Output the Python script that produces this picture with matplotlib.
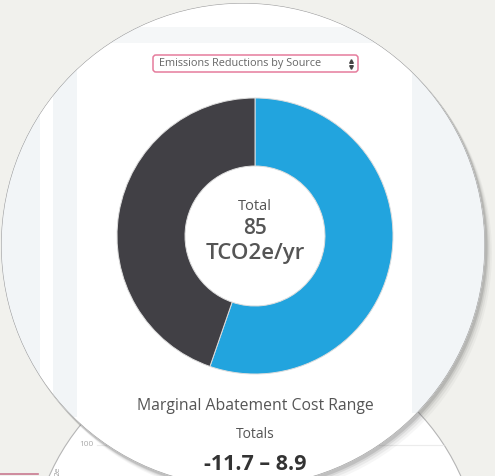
import matplotlib
matplotlib.use("Agg")
import matplotlib.pyplot as plt
from matplotlib.patches import Circle, Rectangle, FancyBboxPatch

# ---- data ----
sources = ["Source 1", "Source 2"]
reductions = [47, 38]          # TCO2e/yr
source_colors = ["#22a4de", "#414045"]
total_label = "85"
unit_label = "TCO2e/yr"
mac_range = "-11.7 \u2013 8.9"
dropdown_text = "Emissions Reductions by Source"

W, H = 495, 476
plt.rcParams['font.family'] = ['Open Sans', 'DejaVu Sans']

fig = plt.figure(figsize=(W / 100, H / 100), dpi=100)
fig.patch.set_facecolor("#f1f1ed")
ax = fig.add_axes([0, 0, 1, 1])
ax.set_xlim(0, W)
ax.set_ylim(0, H)
ax.set_aspect("equal")
ax.axis("off")

def Y(y):
    return H - y

# pink line bottom-left
ax.plot([0, 38], [Y(474), Y(474)], color="#c97a90", lw=1.2, zorder=1)

# ---- second (lower) circle ----
c2 = Circle((255, Y(567)), 225, facecolor="white", edgecolor="#b5b5b5", lw=0.8, zorder=2)
ax.add_patch(c2)
gl, = ax.plot([97, 470], [Y(445), Y(445)], color="#ececec", lw=0.8, zorder=3)
gl.set_clip_path(c2)
t1 = ax.text(86, Y(445), "100", fontsize=6, color="#aaaaaa", ha="center", va="center", zorder=3)
t1.set_clip_path(c2)
t2 = ax.text(58, Y(471), "2e", fontsize=6, color="#999999", rotation=90, ha="center", va="center", zorder=3)
t2.set_clip_path(c2)

# ---- big magnifier circle: shadow ----
cx, cy, R = 243, Y(245), 242
for off, a in [(8, 0.05), (6, 0.08), (4, 0.12), (2.5, 0.18)]:
    ax.add_patch(Circle((cx + off * 0.8, cy - off), R + 0.5, facecolor="#555555",
                        edgecolor="none", alpha=a, zorder=4))

big = Circle((cx, cy), R, facecolor="white", edgecolor="none", zorder=5)
ax.add_patch(big)

def clipped(p, z=6):
    p.set_zorder(z)
    ax.add_patch(p)
    p.set_clip_path(big)
    return p

lb = "#f2f5f7"
clipped(Rectangle((0, Y(43)), 412, 16, facecolor="#f5f7f8", edgecolor="none"))
clipped(Rectangle((0, Y(417)), 40, 374, facecolor=lb, edgecolor="none"))
clipped(Rectangle((53, Y(417)), 24, 374, facecolor=lb, edgecolor="none"))
clipped(Rectangle((412, Y(413)), 90, 343, facecolor=lb, edgecolor="none"))
clipped(Circle((cx, cy), R, facecolor="none", edgecolor="#9a9a9a", lw=0.8), z=20)

# dropdown
dd = FancyBboxPatch((153, Y(72)), 205, 17, boxstyle="round,pad=0,rounding_size=3",
                    facecolor="white", edgecolor="#e57c9c", lw=1.1, zorder=7)
ax.add_patch(dd)
ax.text(159, Y(63.5), dropdown_text, fontsize=7.8, color="#666666", ha="left", va="center", zorder=8)
ax.plot([351], [Y(60.5)], marker="^", ms=2.6, color="#444444", zorder=8)
ax.plot([351], [Y(66.5)], marker="v", ms=2.6, color="#444444", zorder=8)

# donut
pcx, pcy, pr, pin = 255, Y(236), 138, 70
wedges, _ = ax.pie(reductions, colors=source_colors, startangle=90, counterclock=False,
                   center=(pcx, pcy), radius=pr, frame=True,
                   wedgeprops=dict(width=pr - pin, edgecolor="#dddddd", linewidth=0.7))
for w in wedges:
    w.set_zorder(9)
ax.set_xlim(0, W)
ax.set_ylim(0, H)
ax.axis("off")

ax.text(pcx, Y(207), "Total", fontsize=10.5, color="#555555", ha="center", va="center", zorder=10)
ax.text(pcx, Y(229), total_label, fontsize=15, color="#555555", ha="center", va="center",
        fontweight="semibold", zorder=10)
ax.text(pcx, Y(254), unit_label, fontsize=16, color="#555555", ha="center", va="center",
        fontweight="semibold", zorder=10)

ax.text(pcx, Y(406), "Marginal Abatement Cost Range", fontsize=11.3, color="#555555",
        ha="center", va="center", zorder=10)
ax.text(pcx, Y(434), "Totals", fontsize=10, color="#555555", ha="center", va="center", zorder=10)
tb = ax.text(pcx, Y(465), mac_range, fontsize=15.5, color="#333333", ha="center", va="center",
             fontweight="bold", zorder=10)
tb.set_clip_path(big)

fig.savefig("out.png", dpi=100, facecolor=fig.get_facecolor())
